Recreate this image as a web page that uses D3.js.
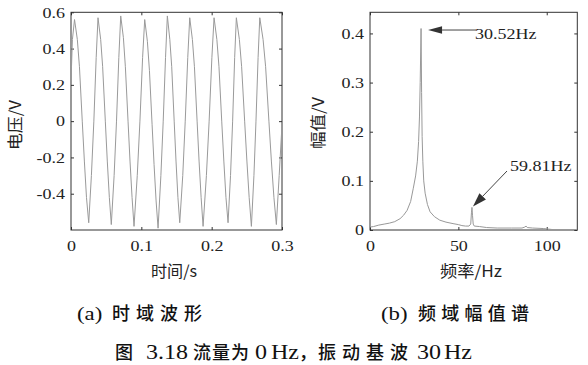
<!DOCTYPE html>
<html><head><meta charset="utf-8">
<script src="https://cdn.jsdelivr.net/npm/d3@7"></script>
<style>html,body{margin:0;padding:0;background:#fff;}svg{display:block;}</style>
</head><body>
<svg id="c" width="588" height="365"></svg>
<script>
// ---- data: (a) time-domain waveform ----
const waveT = [0,0.002,
 0.005,0.009,0.012,0.016,0.019,0.022,0.0252,0.029,0.0325,0.0358,
 0.0384,0.0422,0.0450,0.0488,0.0516,0.0545,0.0573,0.0613,0.0647,0.0680,
 0.0707,0.0745,0.0773,0.0811,0.0839,0.0868,0.0896,0.0942,0.0980,0.1018,
 0.1048,0.1086,0.1115,0.1153,0.1181,0.1210,0.1238,0.1278,0.1311,0.1344,
 0.1370,0.1405,0.1432,0.1467,0.1493,0.1520,0.1546,0.1589,0.1624,0.1660,
 0.1688,0.1726,0.1755,0.1793,0.1821,0.1850,0.1878,0.1925,0.1964,0.2003,
 0.2034,0.2074,0.2104,0.2143,0.2173,0.2203,0.2233,0.2268,0.2298,0.2327,
 0.2351,0.2394,0.2426,0.2469,0.2501,0.2533,0.2565,0.2601,0.2630,0.2660,
 0.2684,0.2731,0.2767,0.2814,0.2849,0.2885,0.2920,0.2960,0.3];
const waveV = [0.22,0.45,
 0.56,0.45,0.30,0.0,-0.22,-0.42,-0.56,-0.30,0.0,0.35,
 0.57,0.45,0.30,0.0,-0.22,-0.42,-0.57,-0.30,0.0,0.35,
 0.58,0.46,0.30,0.0,-0.22,-0.42,-0.58,-0.30,0.0,0.35,
 0.56,0.44,0.28,-0.02,-0.24,-0.44,-0.59,-0.30,0.0,0.35,
 0.58,0.45,0.30,0.0,-0.22,-0.42,-0.56,-0.30,0.0,0.35,
 0.57,0.45,0.30,0.0,-0.22,-0.42,-0.58,-0.30,0.0,0.35,
 0.57,0.45,0.30,0.0,-0.22,-0.42,-0.56,-0.30,0.0,0.35,
 0.57,0.45,0.30,0.0,-0.22,-0.42,-0.58,-0.30,0.0,0.35,
 0.57,0.45,0.30,0.0,-0.22,-0.42,-0.57,-0.30,-0.02];
// ---- data: (b) amplitude spectrum ----
const specF = [0,2,5,8,11,14,17,19,21,23,24.5,25.8,26.8,27.5,28.0,28.4,28.9,29.2,29.5,29.9,30.4,31.2,32.5,34,36.5,39.5,43,47,50,52,54,56,57,57.4,57.7,58.0,58.4,59,62,66,72,80,86,87.6,88.3,89,92,98,103,117];
const specA = [0.006,0.007,0.010,0.012,0.014,0.017,0.023,0.030,0.040,0.058,0.085,0.11,0.14,0.18,0.23,0.30,0.41,0.28,0.19,0.14,0.10,0.075,0.052,0.037,0.027,0.020,0.016,0.013,0.011,0.009,0.008,0.008,0.012,0.035,0.046,0.030,0.012,0.008,0.007,0.005,0.004,0.004,0.004,0.006,0.008,0.005,0.004,0.003,0.001,0.001];
// ---- ticks & labels ----
const waveXTicks = [0,0.1,0.2,0.3];
const waveYTicks = [-0.4,-0.2,0,0.2,0.4,0.6];
const specXTicks = [0,50,100];
const specYTicks = [0,0.1,0.2,0.3,0.4];
const peakLabels = ["30.52Hz","59.81Hz"];
const axisTitles = ["时间/s","电压/V","频率/Hz","幅值/V"];
const capA = ["(a)","时域波形"];
const capB = ["(b)","频域幅值谱"];
const figCap = ["图","3.18","流量为","0","Hz","，","振动基波","30","Hz"];

const svg = d3.select("#c");
const SERIF = "'Liberation Serif','Times New Roman',serif";
const CJK = "'Noto Sans CJK SC','Noto Sans',sans-serif";
const SX = 1.2;

function panel(x0,x1,y0,y1,xd,yd,xt,yt){
  const x = d3.scaleLinear().domain(xd).range([x0,x1]);
  const y = d3.scaleLinear().domain(yd).range([y1,y0]);
  const g = svg.append("g");
  const fmt = d => String(d);
  const styleAxis = sel => {
    sel.select(".domain").remove();
    sel.selectAll("line").attr("stroke","#333");
    sel.selectAll("text").attr("font-family",SERIF).attr("font-size",15).attr("fill","#222");
  };
  g.append("g").attr("transform",`translate(0,${y1})`)
    .call(d3.axisBottom(x).tickValues(xt).tickFormat(fmt).tickSize(-3).tickPadding(10))
    .call(styleAxis)
    .selectAll("text").attr("transform",`scale(${SX},1)`);
  g.append("g").attr("transform",`translate(0,${y0})`)
    .call(d3.axisTop(x).tickValues(xt).tickFormat("").tickSize(-3)).call(styleAxis);
  g.append("g").attr("transform",`translate(${x0},0)`)
    .call(d3.axisLeft(y).tickValues(yt).tickFormat(fmt).tickSize(-3).tickPadding(5))
    .call(styleAxis)
    .selectAll("text").attr("transform",`scale(${SX},1)`);
  g.append("g").attr("transform",`translate(${x1},0)`)
    .call(d3.axisRight(y).tickValues(yt).tickFormat("").tickSize(-3)).call(styleAxis);
  g.append("rect").attr("x",x0).attr("y",y0).attr("width",x1-x0).attr("height",y1-y0)
    .attr("fill","none").attr("stroke","#333").attr("stroke-width",1);
  return {x,y,g};
}

// (a)
const A = panel(71,282,12.3,230,[0,0.3],[-0.6,0.6],waveXTicks,waveYTicks);
A.g.append("path").datum(waveT.map((t,i)=>[t,waveV[i]]))
  .attr("d",d3.line().x(d=>A.x(d[0])).y(d=>A.y(d[1])))
  .attr("fill","none").attr("stroke","#9a9a9a").attr("stroke-width",1);

// (b)
const B = panel(370,577.3,12.3,230,[0,117.3],[0,0.443],specXTicks,specYTicks);
B.g.append("path").datum(specF.map((f,i)=>[f,specA[i]]))
  .attr("d",d3.line().x(d=>B.x(d[0])).y(d=>B.y(d[1])))
  .attr("fill","none").attr("stroke","#999").attr("stroke-width",1);

// arrows
function arrow(xs,ys,xe,ye,len,hw){
  const ang = Math.atan2(ye-ys,xe-xs);
  const bx = xe-len*Math.cos(ang), by = ye-len*Math.sin(ang);
  const px = -Math.sin(ang)*hw, py = Math.cos(ang)*hw;
  svg.append("line").attr("x1",xs).attr("y1",ys).attr("x2",bx).attr("y2",by)
    .attr("stroke","#444").attr("stroke-width",1);
  svg.append("path").attr("d",`M${xe},${ye}L${bx+px},${by+py}L${bx-px},${by-py}Z`).attr("fill","#333");
}
const i1 = specA.indexOf(d3.max(specA));
arrow(476,B.y(specA[i1])+1.5,B.x(specF[i1])+7,B.y(specA[i1])+1.5,14,3.8);
const i2 = 34;
arrow(507,171,B.x(specF[i2])+1,B.y(specA[i2])-1,14,4.5);

function stext(x,y,t,size,anchor,sx){
  svg.append("text").attr("transform",`translate(${x},${y}) scale(${sx},1)`)
    .attr("text-anchor",anchor).attr("font-family",SERIF).attr("font-size",size)
    .attr("fill","#222").text(t);
}
stext(475,39,peakLabels[0],15,"start",SX);
stext(510,171,peakLabels[1],15,"start",SX);

// axis titles
const title = (x,y,t,rot,w) => svg.append("text")
  .attr("transform",`translate(${x},${y}) rotate(${rot})`)
  .attr("text-anchor","middle").attr("dominant-baseline","central")
  .attr("font-family",CJK).attr("font-size",16).attr("fill","#222")
  .attr("textLength",w).attr("lengthAdjust","spacingAndGlyphs").text(t);
title(174,270,axisTitles[0],0,46);
title(14,125,axisTitles[1],-90,50);
title(471,270,axisTitles[2],0,62);
title(317,123,axisTitles[3],-90,52);

// captions: latin segments in serif (stretched), CJK segments in sans CJK
function lat(x,y,t,size){
  svg.append("text").attr("transform",`translate(${x},${y}) scale(${SX},1)`)
    .attr("font-family",SERIF).attr("font-size",size).attr("font-weight",500)
    .attr("fill","#111").text(t);
}
function cjk(x,y,t,size,w){
  svg.append("text").attr("x",x).attr("y",y)
    .attr("font-family",CJK).attr("font-size",size).attr("font-weight",500)
    .attr("fill","#111").attr("textLength",w).attr("lengthAdjust","spacing").text(t);
}
lat(77,320,capA[0],19);   cjk(112,320,capA[1],18,90);
lat(381,320,capB[0],19);  cjk(418,320,capB[1],18,111);
const y2 = 359;
cjk(115,y2,figCap[0],18,18);
lat(146,y2,figCap[1],20);
cjk(193,y2,figCap[2],18,56);
lat(255,y2,figCap[3],20);
lat(271,y2,figCap[4],20);
cjk(299,y2,figCap[5],18,18);
cjk(318,y2,figCap[6],18,90);
lat(417,y2,figCap[7],20);
lat(444,y2,figCap[8],20);
</script>
</body></html>
